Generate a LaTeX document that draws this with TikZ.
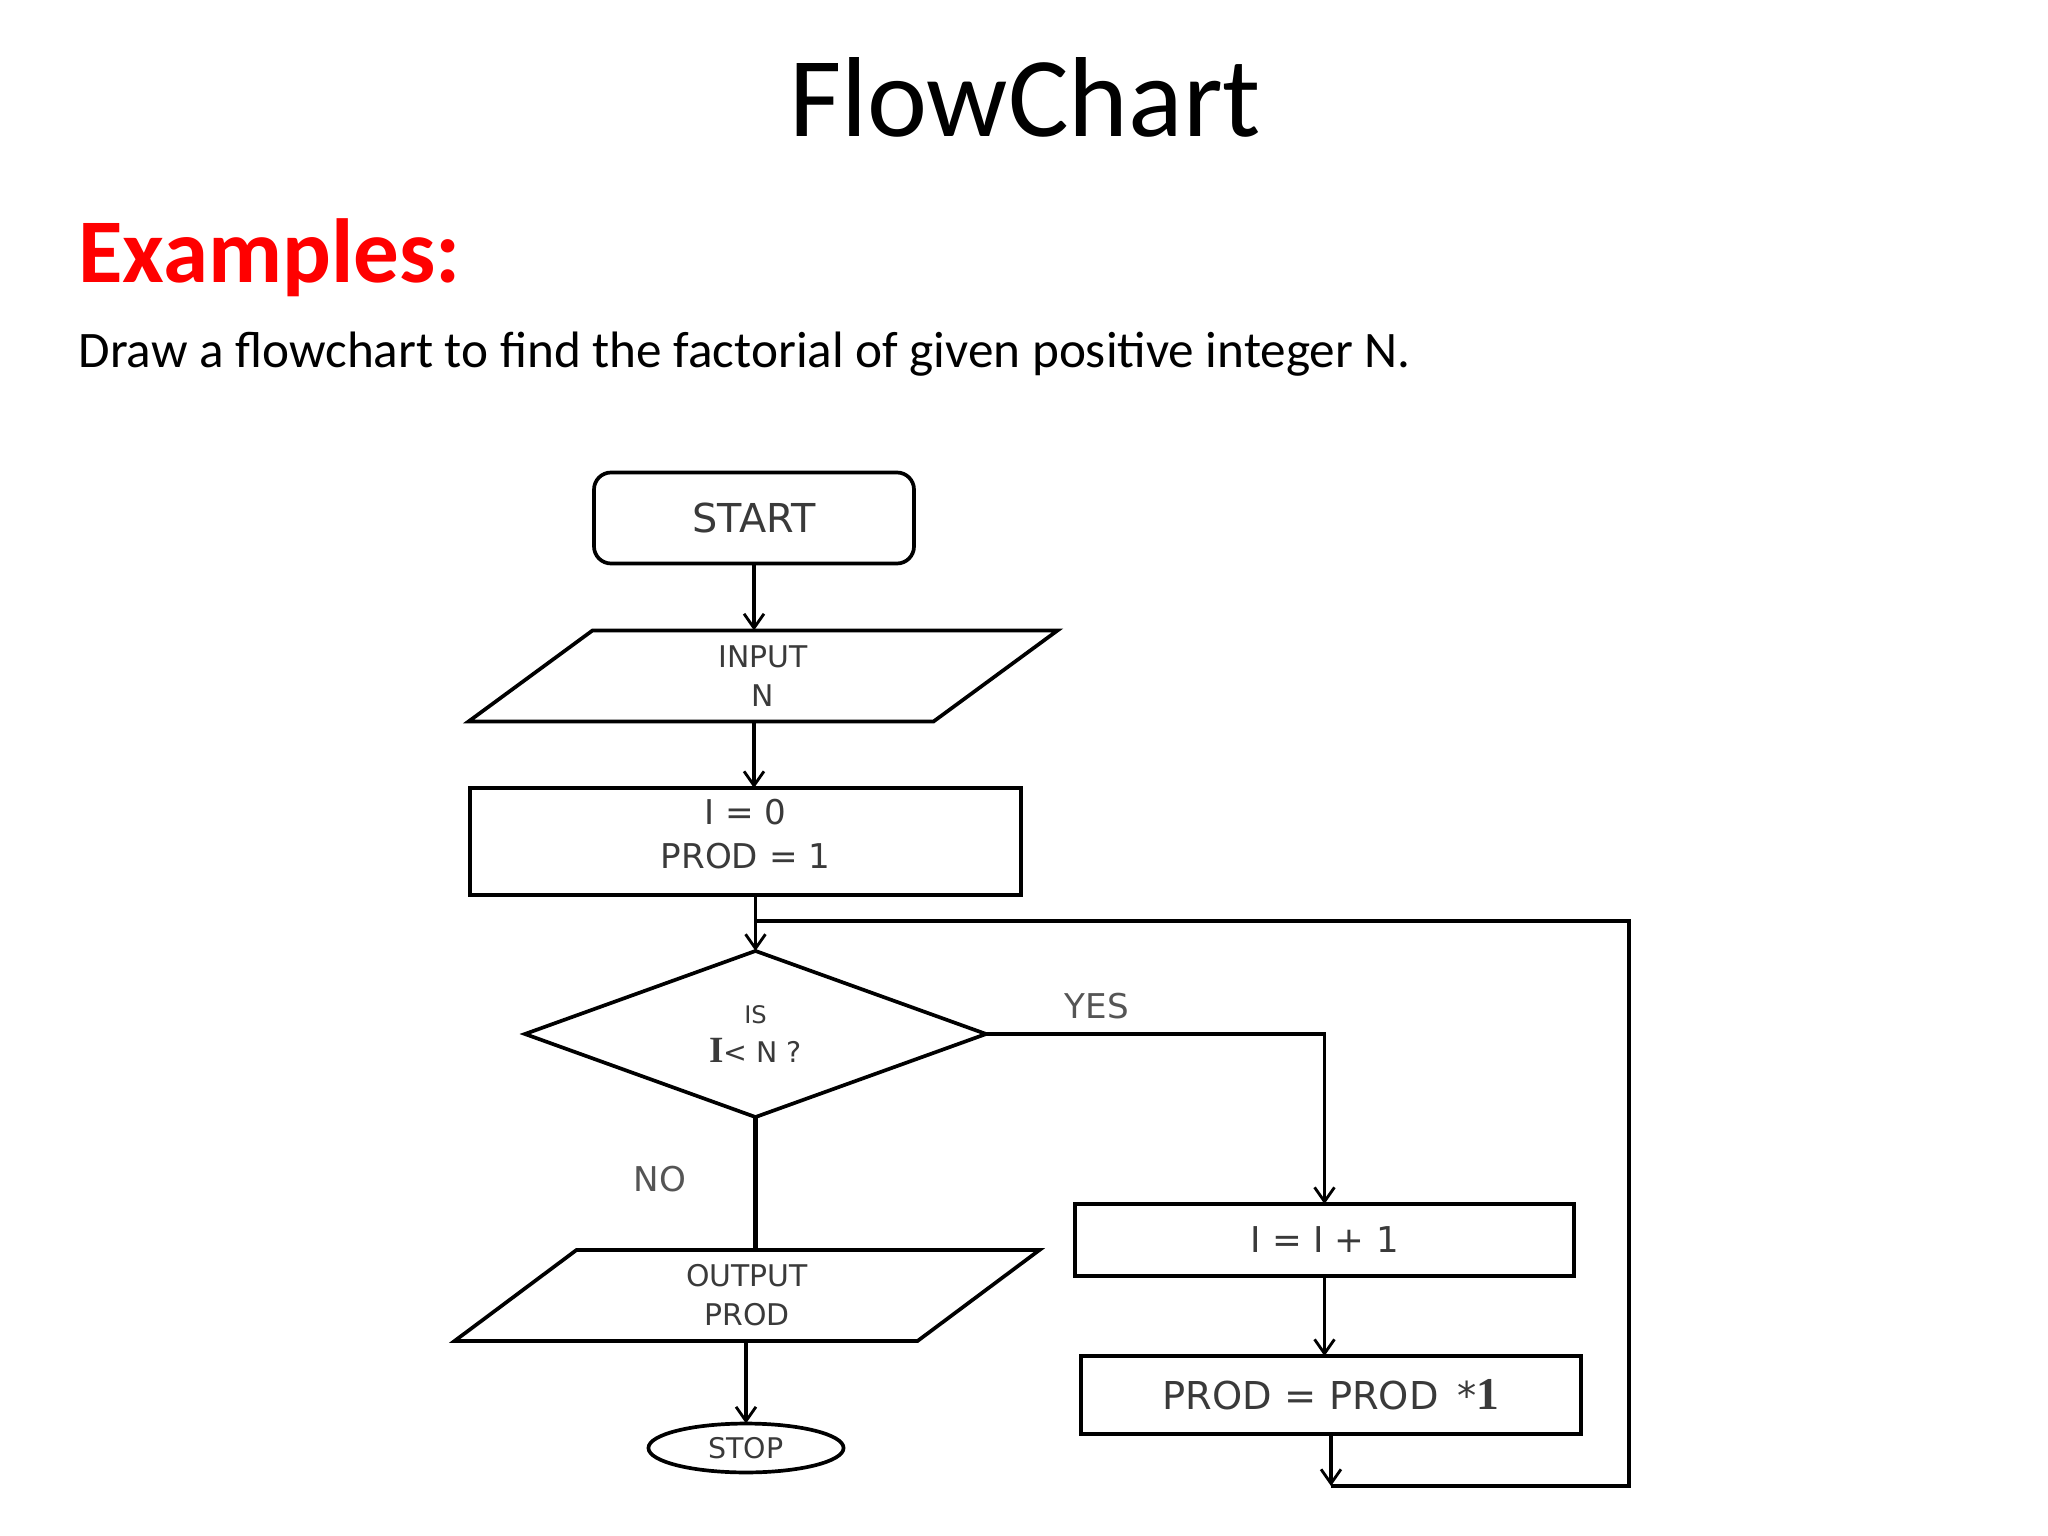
\documentclass[tikz,border=0pt]{standalone}
\usepackage{fontspec}
\setmainfont{Carlito}
\newfontfamily\chartfont{DejaVu Sans}
\newfontfamily\serifb{Liberation Serif}
\usetikzlibrary{shapes.geometric,arrows.meta,calc}
\definecolor{txtgray}{HTML}{3A3A3A}
\definecolor{lblgray}{HTML}{555555}
\definecolor{exred}{HTML}{FF0000}
\tikzset{
  shapeline/.style={draw=black, line width=1.3pt},
  boxnode/.style={shapeline, text=txtgray, inner sep=0pt, outer sep=0pt, align=center},
  ionode/.style={text=txtgray, inner sep=0pt, outer sep=0pt, align=center, minimum height=32pt, minimum width=100pt},
  flow/.style={-{Straight Barb[length=5pt,width=7pt,line width=1pt]}, line width=1.1pt},
  conn/.style={line width=1.2pt},
  lbl/.style={text=lblgray, inner sep=0pt, font=\chartfont\fontsize{12}{14}\selectfont}
}
\begin{document}
\begin{tikzpicture}[x=0.35156pt,y=-0.35156pt]
\useasboundingbox (0,0) rectangle (2048,1536);
\fill[white] (0,0) rectangle (2048,1536);

% Header texts
\node[anchor=base, inner sep=0pt, font=\fontsize{40}{48}\selectfont] (title) at (1025,137) {FlowChart};
\node[anchor=base west, inner sep=0pt, text=exred, font=\bfseries\fontsize{32}{38}\selectfont] (ex) at (78,283) {Examples:};
\node[anchor=base west, inner sep=0pt, font=\fontsize{18}{22}\selectfont] (desc) at (78,368) {Draw a flowchart to find the factorial of given positive integer N.};

% Flowchart nodes
\node[boxnode, rounded corners=6pt, minimum width=112.5pt, minimum height=32pt,
      font=\chartfont\fontsize{14}{16}\selectfont] (start) at (754,518) {START};

\node[ionode, font=\chartfont\fontsize{10.5}{13.7}\selectfont] (in) at (763,676) {INPUT\\N};
\draw[shapeline] ($(in.north)+(-170.5,0)$) -- ($(in.north)+(294.5,0)$) -- ($(in.south)+(170.5,0)$) -- ($(in.south)+(-294.5,0)$) -- cycle;

\node[boxnode, minimum width=193.7pt, minimum height=37.6pt, text depth=5.6pt,
      font=\chartfont\fontsize{12}{15.5}\selectfont] (init) at (745.5,841.5) {I = 0\\PROD = 1};

\node[boxnode, diamond, aspect=2.78, minimum width=162.1pt, minimum height=58.4pt,
      font=\chartfont\fontsize{8.5}{13.7}\selectfont] (dec) at (755.5,1034) {IS\\{\serifb\bfseries\fontsize{13}{13}\selectfont I}{\fontsize{10}{13}\selectfont{}< N ?}};

\node[ionode, font=\chartfont\fontsize{10.5}{13.7}\selectfont] (out) at (747,1295.5) {OUTPUT\\PROD};
\draw[shapeline] ($(out.north)+(-170.5,0)$) -- ($(out.north)+(292.5,0)$) -- ($(out.south)+(170.5,0)$) -- ($(out.south)+(-292.5,0)$) -- cycle;

\node[boxnode, ellipse, minimum width=68.6pt, minimum height=17.2pt,
      font=\chartfont\fontsize{10}{12}\selectfont] (stop) at (746,1448) {STOP};

\node[boxnode, minimum width=175.4pt, minimum height=25.3pt,
      font=\chartfont\fontsize{12.5}{15}\selectfont] (inc) at (1324.5,1240) {I = I + 1};

\node[boxnode, minimum width=175.8pt, minimum height=27.4pt,
      font=\chartfont\fontsize{13.5}{16}\selectfont] (p2) at (1331,1395) {PROD = PROD \,*{\serifb\bfseries\fontsize{16}{16}\selectfont 1}};

% Labels
\node[lbl] (yes) at (1097,1006) {YES};
\node[lbl] (no) at (660,1179) {NO};

% Loop coordinates
\coordinate (lb) at (1331,1486);
\coordinate (rb) at (1629,1486);
\coordinate (rt) at (1629,921);
\coordinate (jn) at (755.5,921);

% Connectors
\draw[flow] (start.south) -- (start.south |- in.north);
\draw[flow] (start.south |- in.south) -- (start.south |- init.north);
\draw[flow] (dec.north |- init.south) -- (dec.north);
\draw[line width=1.7pt] (dec.south) -- (dec.south |- out.north);
\draw[flow] (stop.north |- out.south) -- (stop.north);
\draw[flow] (dec.east) -| (inc.north);
\draw[flow] (inc.south) -- (inc.south |- p2.north);
\draw[flow] (p2.south) -- (lb);
\draw[conn] (lb) -- (rb) -- (rt) -- (jn);
\end{tikzpicture}
\end{document}
